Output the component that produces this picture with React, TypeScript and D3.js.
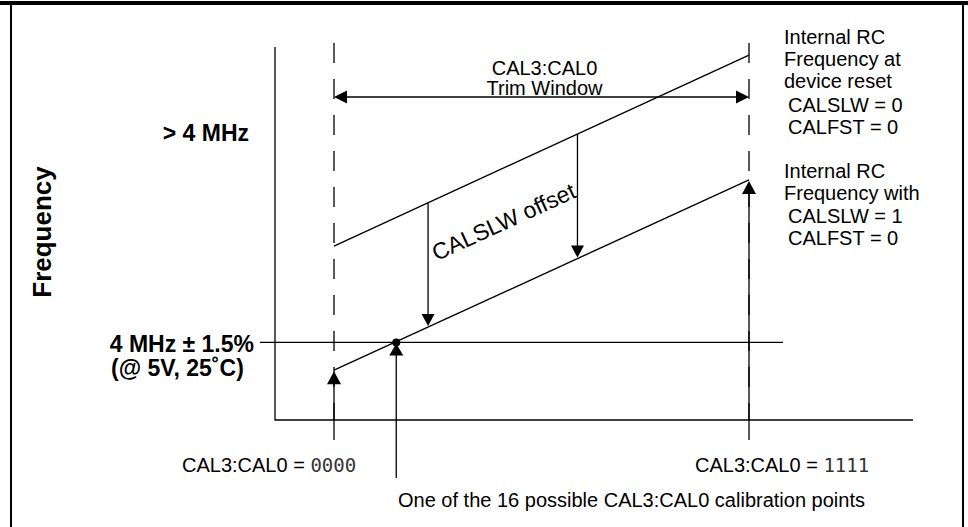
import { useMemo } from 'react'
import * as d3 from 'd3'

// CAL3:CAL0 trim codes at the ends of the trim window
const trimCodes = [0, 15]
// internal RC frequency (MHz) at the window ends
const resetFreq = [4.261, 4.778] // CALSLW = 0, CALFST = 0
const slowFreq = [3.925, 4.44] // CALSLW = 1, CALFST = 0
const nominalFreq = 4.0
// codes where the CALSLW offset arrows are drawn
const offsetCodes = [3.4, 8.8]
// the highlighted calibration point
const calPointCode = 2.25

const resetLabel = ['Internal RC', 'Frequency at', 'device reset']
const resetBits = ['CALSLW = 0', 'CALFST = 0']
const slowLabel = ['Internal RC', 'Frequency with']
const slowBits = ['CALSLW = 1', 'CALFST = 0']

const W = 968
const H = 527
const axisX = 275
const axisY = 420
const axisTop = 47
const axisRight = 913
const font = '"Liberation Sans", Arial, Helvetica, sans-serif'
const mono = '"DejaVu Sans Mono", "Liberation Mono", monospace'

function arrowHead(x: number, y: number, dir: 'up' | 'down' | 'left' | 'right', len = 13, half = 7) {
  const p = d3.path()
  p.moveTo(x, y)
  if (dir === 'up') {
    p.lineTo(x - half, y + len)
    p.lineTo(x + half, y + len)
  } else if (dir === 'down') {
    p.lineTo(x - half, y - len)
    p.lineTo(x + half, y - len)
  } else if (dir === 'left') {
    p.lineTo(x + len, y - half)
    p.lineTo(x + len, y + half)
  } else {
    p.lineTo(x - len, y - half)
    p.lineTo(x - len, y + half)
  }
  p.closePath()
  return p.toString()
}

export default function App() {
  const sc = useMemo(() => {
    const x = d3.scaleLinear().domain([0, 15]).range([334, 749])
    const y = d3.scaleLinear().domain([3.79, 4.8]).range([axisY, axisTop])
    const resetAt = d3.scaleLinear().domain(trimCodes).range(resetFreq)
    const slowAt = d3.scaleLinear().domain(trimCodes).range(slowFreq)
    return { x, y, resetAt, slowAt }
  }, [])

  const { x, y, resetAt, slowAt } = sc
  const line = d3
    .line<[number, number]>()
    .x((d) => x(d[0]))
    .y((d) => y(d[1]))

  const resetPts = trimCodes.map((c, i) => [c, resetFreq[i]] as [number, number])
  const slowPts = trimCodes.map((c, i) => [c, slowFreq[i]] as [number, number])
  const xL = x(trimCodes[0])
  const xR = x(trimCodes[1])
  const trimY = 97
  const nomY = y(nominalFreq)
  const calX = x(calPointCode)

  return (
    <div style={{ position: 'fixed', left: 0, top: 0 }}>
      <svg width={W} height={H} viewBox={`0 0 ${W} ${H}`} fontFamily={font}>
        <rect x={0} y={0} width={W} height={H} fill="#fff" />
        {/* frame */}
        <line x1={0} x2={W} y1={3} y2={3} stroke="#000" strokeWidth={4} />
        <line x1={11} x2={11} y1={3} y2={H} stroke="#000" strokeWidth={2} />
        <line x1={963} x2={963} y1={3} y2={H} stroke="#000" strokeWidth={2} />

        {/* axes */}
        <path d={`M${axisX},${axisTop}V${axisY}H${axisRight}`} fill="none" stroke="#000" strokeWidth={1.3} />

        {/* trim window boundaries */}
        {trimCodes.map((c) => (
          <line
            key={c}
            x1={x(c)}
            x2={x(c)}
            y1={43}
            y2={axisY}
            stroke="#000"
            strokeWidth={1.3}
            strokeDasharray="20 16"
          />
        ))}

        {/* nominal 4 MHz line */}
        <line x1={260} x2={783} y1={nomY} y2={nomY} stroke="#000" strokeWidth={1.3} />

        {/* frequency lines */}
        <path d={line(resetPts) ?? ''} fill="none" stroke="#000" strokeWidth={1.4} />
        <path d={line(slowPts) ?? ''} fill="none" stroke="#000" strokeWidth={1.4} />

        {/* trim window arrow */}
        <line x1={xL + 12} x2={xR - 12} y1={trimY} y2={trimY} stroke="#000" strokeWidth={1.4} />
        <path d={arrowHead(xL, trimY, 'left', 13, 6.5)} fill="#000" />
        <path d={arrowHead(xR, trimY, 'right', 13, 6.5)} fill="#000" />
        <text x={(xL + xR) / 2 + 3} y={75} textAnchor="middle" fontSize={20}>
          CAL3:CAL0
        </text>
        <text x={(xL + xR) / 2 + 3} y={95} textAnchor="middle" fontSize={20}>
          Trim Window
        </text>

        {/* CALSLW offset arrows */}
        {offsetCodes.map((c) => {
          const cx = x(c)
          const top = y(resetAt(c))
          const tip = y(slowAt(c))
          return (
            <g key={c}>
              <line x1={cx} x2={cx} y1={top} y2={tip - 11} stroke="#000" strokeWidth={1.3} />
              <path d={arrowHead(cx, tip - 1, 'down', 12, 6.5)} fill="#000" />
            </g>
          )
        })}
        <text
          transform={`translate(507,229) rotate(-24.5)`}
          textAnchor="middle"
          fontSize={23}
        >
          CALSLW offset
        </text>

        {/* window end arrows */}
        {trimCodes.map((c, i) => {
          const cx = x(c)
          const tip = y(slowFreq[i])
          return (
            <g key={c}>
              <line x1={cx} x2={cx} y1={440} y2={tip + 10} stroke="#000" strokeWidth={1.3} />
              <path d={arrowHead(cx, tip + 1, 'up', 13, 7)} fill="#000" />
            </g>
          )
        })}

        {/* calibration point */}
        <line x1={calX} x2={calX} y1={478} y2={nomY + 10} stroke="#000" strokeWidth={1.3} />
        <path d={arrowHead(calX, nomY + 1, 'up', 12, 7)} fill="#000" />
        <circle cx={calX} cy={nomY} r={4} fill="#000" />

        {/* y labels */}
        <text
          transform={`translate(51,232) rotate(-90)`}
          textAnchor="middle"
          fontSize={26}
          fontWeight="bold"
        >
          Frequency
        </text>
        <text x={249} y={141} textAnchor="end" fontSize={23} fontWeight="bold">
          &gt; 4 MHz
        </text>
        <text x={254} y={352} textAnchor="end" fontSize={23} fontWeight="bold">
          4 MHz ± 1.5%
        </text>
        <text x={111} y={376} fontSize={23} fontWeight="bold">
          (@ 5V, 25˚C)
        </text>

        {/* right labels */}
        <g fontSize={20}>
          {resetLabel.map((t, i) => (
            <text key={'r' + i} x={784} y={44 + i * 22}>
              {t}
            </text>
          ))}
          {slowLabel.map((t, i) => (
            <text key={'s' + i} x={784} y={178 + i * 22}>
              {t}
            </text>
          ))}
          {resetBits.map((t, i) => (
            <text key={'rb' + i} x={788} y={112 + i * 22}>
              {t}
            </text>
          ))}
          {slowBits.map((t, i) => (
            <text key={'sb' + i} x={788} y={223 + i * 22}>
              {t}
            </text>
          ))}
        </g>

        {/* bottom labels */}
        <text x={182} y={472} fontSize={20}>
          CAL3:CAL0 ={' '}
          <tspan fontFamily={mono} fontSize={19} fill="#333">
            0000
          </tspan>
        </text>
        <text x={695} y={472} fontSize={20}>
          CAL3:CAL0 ={' '}
          <tspan fontFamily={mono} fontSize={19} fill="#333">
            1111
          </tspan>
        </text>
        <text x={398} y={507} fontSize={20}>
          One of the 16 possible CAL3:CAL0 calibration points
        </text>
      </svg>
    </div>
  )
}
